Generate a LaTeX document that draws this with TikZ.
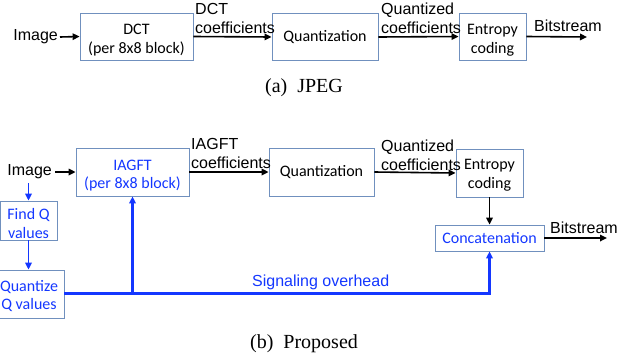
\documentclass[tikz,border=0pt]{standalone}
\usepackage{fontspec}
\setmainfont{Liberation Serif}
\newfontfamily\calfont{Carlito}
\newfontfamily\arifont{Liberation Sans}
\usetikzlibrary{arrows.meta}
\definecolor{boxedge}{RGB}{112,144,190}
\definecolor{sigblue}{RGB}{20,55,255}
% centred lines, lowered by #1 without changing the box size
\newcommand\stacklow[2]{\raisebox{-#1}[\height][\depth]{\begin{tabular}{@{}c@{}}#2\end{tabular}}}
\tikzset{
  blk/.style={draw=boxedge, line width=0.8pt, inner sep=0pt,
    font=\calfont\fontsize{16}{18.5}\selectfont},
  lbl/.style={inner sep=0pt, align=left, font=\arifont\fontsize{16}{19.5}\selectfont},
  subcap/.style={inner sep=0pt, font=\fontsize{20}{22}\selectfont},
  arr/.style={-{Triangle[length=7pt,width=6.5pt]}, line width=1.6pt},
  barr/.style={arr, draw=sigblue},
}
\begin{document}
\begin{tikzpicture}[x=1pt,y=-1pt]
\useasboundingbox (0,0) rectangle (628,362);

% ---------- (a) JPEG ----------
\node[lbl, anchor=east] (imA) at (58,37) {Image};
\node[blk, minimum width=113pt, minimum height=47pt] (dct) at (136.5,36.5) {\stacklow{4pt}{DCT\\(per 8x8 block)}};
\node[blk, minimum width=106pt, minimum height=47pt] (qA) at (325,37) {Quantization};
\node[blk, minimum width=67pt, minimum height=47pt] (entA) at (492.5,36.5) {\stacklow{4pt}{Entropy\\coding}};
\coordinate (outA) at (587,37);
\draw[arr] (imA.east) ++(2,0) -- (dct.west);
\draw[arr] (dct.east) -- (qA.west);
\draw[arr] (qA.east) -- (entA.west);
\draw[arr] (entA.east) -- (outA);
\node[lbl, anchor=south west] (dctlbl) at (195,34) {DCT\\coefficients};
\node[lbl, anchor=south west] (qlblA) at (381,34) {Quantized\\coefficients};
\node[lbl, anchor=south west] (bsA) at (534,32) {Bitstream};
\node[subcap] (capA) at (304,88) {(a)\ \ JPEG};

% ---------- (b) Proposed ----------
\node[lbl, anchor=east] (imB) at (52,172) {Image};
\node[blk, text=sigblue, minimum width=113pt, minimum height=48pt] (iagft) at (132.5,172) {\stacklow{4pt}{IAGFT\\(per 8x8 block)}};
\node[blk, minimum width=105pt, minimum height=48pt] (qB) at (321.5,172) {Quantization};
\node[blk, minimum width=67pt, minimum height=48pt] (entB) at (489.5,173) {\stacklow{2.5pt}{Entropy\\coding}};
\node[blk, text=sigblue, minimum width=109pt, minimum height=26pt] (concat) at (489.5,238) {Concatenation};
\node[blk, text=sigblue, minimum width=57pt, minimum height=39pt] (findq) at (28.5,220.5) {\stacklow{5pt}{Find Q\\values}};
\node[blk, text=sigblue, minimum width=70pt, minimum height=48pt] (quantq) at (29,294) {\stacklow{3pt}{Quantize\\Q values}};
\coordinate (outB) at (607,238);
\coordinate (tap) at (132.5,293.5);
\coordinate (turn) at (489.5,293.5);

\draw[arr] (imB.east) ++(3,0) -- (iagft.west);
\draw[arr] (iagft.east) -- (qB.west);
\draw[arr] (qB.east) -- (entB.west);
\draw[arr] (entB.south) -- (concat.north);
\draw[arr] (concat.east) -- (outB);
\draw[barr] (28.5,183) -- (findq.north);
\draw[barr] (findq.south) -- (quantq.north -| findq.south);
\draw[draw=sigblue, line width=2.4pt] (quantq.east |- tap) -- (tap);
\draw[barr, line width=2.4pt] (tap) -- (turn) -- (concat.south);
\draw[barr, line width=2.4pt] (tap) -- (iagft.south);

\node[lbl, anchor=south west] (iglbl) at (191,169) {IAGFT\\coefficients};
\node[lbl, anchor=south west] (qlblB) at (381,171) {Quantized\\coefficients};
\node[lbl, anchor=south west] (bsB) at (550,234) {Bitstream};
\node[lbl, text=sigblue, anchor=south west] (sig) at (252,290) {Signaling overhead};
\node[subcap] (capB) at (304,344) {(b)\ \ Proposed};
\end{tikzpicture}
\end{document}
